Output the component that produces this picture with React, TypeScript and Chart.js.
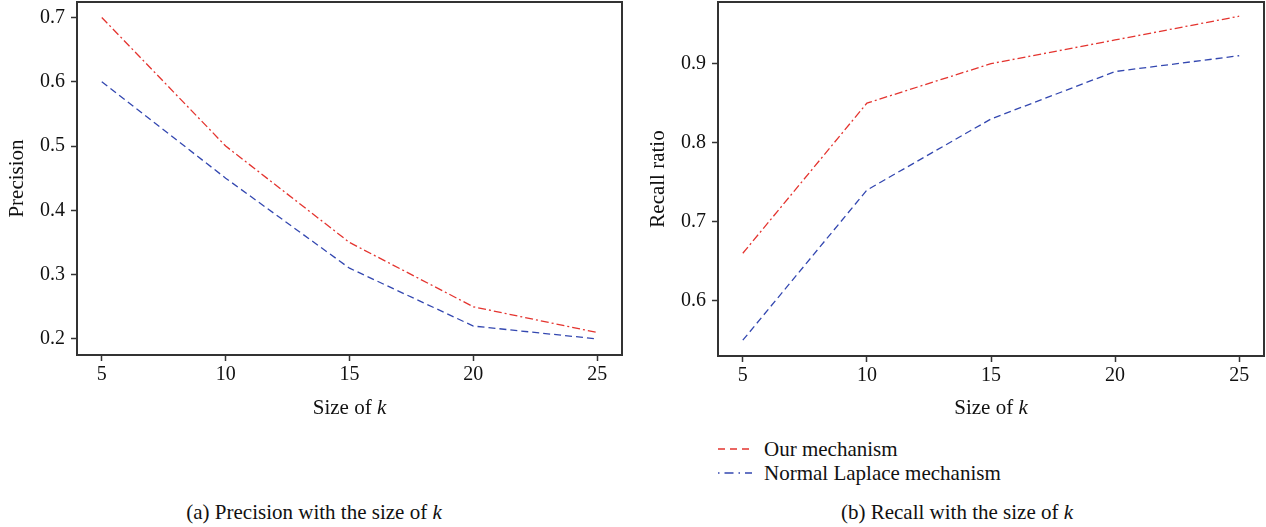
import React, { useEffect, useRef } from "react";
import { Chart, registerables } from "chart.js";

Chart.register(...registerables);

// ---- data ----
const kValues = [5, 10, 15, 20, 25];
const precisionOurs = [0.7, 0.5, 0.35, 0.25, 0.21];
const precisionLaplace = [0.6, 0.45, 0.31, 0.22, 0.2];
const recallOurs = [0.66, 0.85, 0.9, 0.93, 0.96];
const recallLaplace = [0.55, 0.74, 0.83, 0.89, 0.91];
const xTicks = [5, 10, 15, 20, 25];
const precisionTicks = [0.2, 0.3, 0.4, 0.5, 0.6, 0.7];
const recallTicks = [0.6, 0.7, 0.8, 0.9];
const seriesNames = ["Our mechanism", "Normal Laplace mechanism"];

const RED = "#e4342f";
const BLUE = "#3347b0";
const AXIS = "#333333";
const TEXT = "#111111";
const FONT = "'Liberation Serif', 'Times New Roman', serif";
const TICK_SIZE = 20;
const TITLE_SIZE = 21;

function framePlugin(yTitle: string, titleX: number, xTitleY: number) {
  return {
    id: "frameTitles",
    afterDraw(chart: any) {
      const { ctx, chartArea: a } = chart;
      ctx.save();
      ctx.strokeStyle = AXIS;
      ctx.lineWidth = 2;
      ctx.strokeRect(a.left, a.top, a.right - a.left, a.bottom - a.top);
      ctx.restore();

      ctx.save();
      ctx.fillStyle = TEXT;
      ctx.font = `${TITLE_SIZE}px ${FONT}`;
      ctx.textAlign = "center";
      ctx.textBaseline = "middle";
      ctx.translate(titleX, (a.top + a.bottom) / 2);
      ctx.rotate(-Math.PI / 2);
      ctx.fillText(yTitle, 0, 0);
      ctx.restore();

      ctx.save();
      ctx.fillStyle = TEXT;
      const t1 = "Size of ";
      const t2 = "k";
      ctx.font = `${TITLE_SIZE}px ${FONT}`;
      const w1 = ctx.measureText(t1).width;
      ctx.font = `italic ${TITLE_SIZE}px ${FONT}`;
      const w2 = ctx.measureText(t2).width;
      const cx = (a.left + a.right) / 2;
      const x = cx - (w1 + w2) / 2;
      ctx.textAlign = "left";
      ctx.textBaseline = "middle";
      ctx.font = `${TITLE_SIZE}px ${FONT}`;
      ctx.fillText(t1, x, xTitleY);
      ctx.font = `italic ${TITLE_SIZE}px ${FONT}`;
      ctx.fillText(t2, x + w1, xTitleY);
      ctx.restore();
    },
  };
}

function makeConfig(opts: {
  ours: number[];
  laplace: number[];
  yMin: number;
  yMax: number;
  yTicks: number[];
  yTitle: string;
  yAxisWidth: number;
  xAxisHeight: number;
  padRight: number;
  titleX: number;
  xTitleY: number;
}) {
  const grid = {
    display: true,
    drawOnChartArea: false,
    drawTicks: true,
    tickLength: 6,
    tickColor: AXIS,
    tickWidth: 1.5,
  };
  return {
    type: "line" as const,
    data: {
      datasets: [
        {
          label: seriesNames[0],
          data: kValues.map((k, i) => ({ x: k, y: opts.ours[i] })),
          borderColor: RED,
          borderWidth: 1.3,
          borderDash: [8, 3, 2, 3],
          pointRadius: 0,
          fill: false,
          tension: 0,
        },
        {
          label: seriesNames[1],
          data: kValues.map((k, i) => ({ x: k, y: opts.laplace[i] })),
          borderColor: BLUE,
          borderWidth: 1.3,
          borderDash: [7, 4],
          pointRadius: 0,
          fill: false,
          tension: 0,
        },
      ],
    },
    options: {
      responsive: false,
      animation: false,
      events: [],
      layout: { padding: { top: 2, right: opts.padRight, left: 0, bottom: 0 } },
      plugins: { legend: { display: false }, tooltip: { enabled: false } },
      scales: {
        x: {
          type: "linear",
          min: 4,
          max: 26,
          afterBuildTicks: (s: any) => {
            s.ticks = xTicks.map((v) => ({ value: v }));
          },
          afterFit: (s: any) => {
            s.height = opts.xAxisHeight;
            s.paddingLeft = 0;
            s.paddingRight = 0;
          },
          grid,
          border: { display: false },
          ticks: {
            font: { family: FONT, size: TICK_SIZE },
            color: TEXT,
            padding: 2,
            maxRotation: 0,
            autoSkip: false,
          },
        },
        y: {
          type: "linear",
          min: opts.yMin,
          max: opts.yMax,
          afterBuildTicks: (s: any) => {
            s.ticks = opts.yTicks.map((v) => ({ value: v }));
          },
          afterFit: (s: any) => {
            s.width = opts.yAxisWidth;
            s.paddingTop = 0;
            s.paddingBottom = 0;
          },
          grid,
          border: { display: false },
          ticks: {
            font: { family: FONT, size: TICK_SIZE },
            color: TEXT,
            padding: 6,
            autoSkip: false,
            callback: (v: any) => Number(v).toFixed(1),
          },
        },
      },
    },
    plugins: [framePlugin(opts.yTitle, opts.titleX, opts.xTitleY)],
  };
}

function ChartPanel(props: { config: any; left: number; width: number; height: number }) {
  const ref = useRef<HTMLCanvasElement | null>(null);
  useEffect(() => {
    const c = new Chart(ref.current as HTMLCanvasElement, props.config);
    return () => c.destroy();
  }, []);
  return (
    <canvas
      ref={ref}
      width={props.width}
      height={props.height}
      style={{ position: "absolute", left: props.left, top: 0, width: props.width, height: props.height, display: "block" }}
    />
  );
}

const textStyle: React.CSSProperties = {
  position: "absolute",
  fontFamily: FONT,
  fontSize: 21,
  lineHeight: "24px",
  color: TEXT,
  whiteSpace: "nowrap",
};

export default function App() {
  const leftConfig = makeConfig({
    ours: precisionOurs,
    laplace: precisionLaplace,
    yMin: 0.175,
    yMax: 0.724,
    yTicks: precisionTicks,
    yTitle: "Precision",
    yAxisWidth: 77,
    xAxisHeight: 75,
    padRight: 18,
    titleX: 17,
    xTitleY: 408,
  });
  const rightConfig = makeConfig({
    ours: recallOurs,
    laplace: recallLaplace,
    yMin: 0.53,
    yMax: 0.978,
    yTicks: recallTicks,
    yTitle: "Recall ratio",
    yAxisWidth: 78,
    xAxisHeight: 74,
    padRight: 2,
    titleX: 18,
    xTitleY: 408,
  });
  return (
    <div style={{ position: "absolute", left: 0, top: 0, width: 1266, height: 527, background: "#fff", overflow: "hidden" }}>
      <ChartPanel config={leftConfig} left={0} width={640} height={430} />
      <ChartPanel config={rightConfig} left={640} width={626} height={430} />

      <svg width={40} height={10} style={{ position: "absolute", left: 717, top: 444 }}>
        <line x1={1} y1={5} x2={35} y2={5} stroke={RED} strokeWidth={1.3} strokeDasharray="7,5" />
      </svg>
      <div style={{ ...textStyle, left: 764, top: 437 }}>{seriesNames[0]}</div>
      <svg width={40} height={10} style={{ position: "absolute", left: 717, top: 468 }}>
        <line x1={1} y1={5} x2={35} y2={5} stroke={BLUE} strokeWidth={1.3} strokeDasharray="1.5,5,9,5" />
      </svg>
      <div style={{ ...textStyle, left: 764, top: 461 }}>{seriesNames[1]}</div>

      <div style={{ ...textStyle, left: 0, width: 628, top: 500, textAlign: "center" }}>
        (a) Precision with the size of <i>k</i>
      </div>
      <div style={{ ...textStyle, left: 640, width: 634, top: 500, textAlign: "center" }}>
        (b) Recall with the size of <i>k</i>
      </div>
    </div>
  );
}
